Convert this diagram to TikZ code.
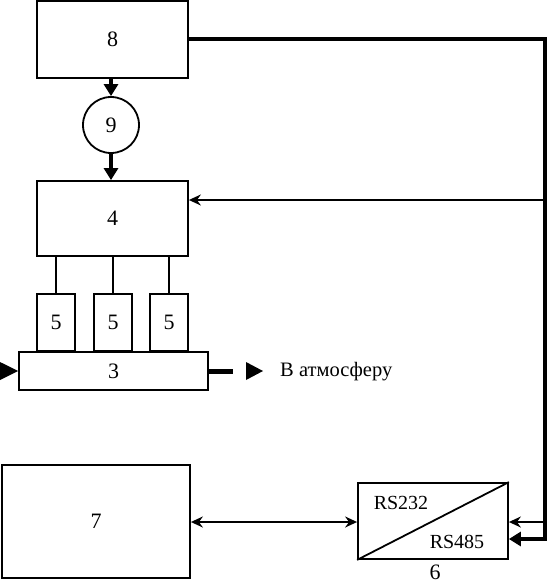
\documentclass[tikz,border=0pt]{standalone}
\usepackage{fontspec}
\setmainfont{Liberation Serif}
\usetikzlibrary{arrows.meta}
\begin{document}
\begin{tikzpicture}[x=1pt,y=-1pt,
  blk/.style={draw,line width=1.8pt,inner sep=0pt,font=\fontsize{22}{22}\selectfont},
  thin/.style={line width=1.8pt},
  thick/.style={line width=4.2pt},
  tarr/.style={thin,-{Stealth[length=12pt,width=11pt,inset=4pt]}},
  barr/.style={thick,-{Triangle[length=12pt,width=14pt]}},
  lbl/.style={font=\fontsize{22}{22}\selectfont,inner sep=0pt}]
\useasboundingbox (0,0) rectangle (548,587);
\fill[white] (0,0) rectangle (548,587);
% boxes
\node[blk,minimum width=151pt,minimum height=77pt] (b8) at (112.5,39.5) {8};
\node[blk,circle,minimum size=56pt] (b9) at (111,125) {9};
\node[blk,minimum width=151pt,minimum height=75pt] (b4) at (112.5,218.5) {4};
\node[blk,minimum width=38pt,minimum height=57pt] (b5a) at (56,322.5) {5};
\node[blk,minimum width=38pt,minimum height=57pt] (b5b) at (113,322.5) {5};
\node[blk,minimum width=38pt,minimum height=57pt] (b5c) at (169,322.5) {5};
\node[blk,minimum width=189pt,minimum height=38pt] (b3) at (113.5,371) {3};
\node[blk,minimum width=188pt,minimum height=113pt] (b7) at (96,521.5) {7};
\node[blk,minimum width=150pt,minimum height=76pt] (b6) at (433,521) {};
\draw[thin] (b6.south west) -- (b6.north east);
\node[lbl,font=\fontsize{20}{20}\selectfont] (rs232) at (401,503) {RS232};
\node[lbl,font=\fontsize{20}{20}\selectfont] (rs485) at (457,542) {RS485};
\node[lbl] (n6) at (435,572) {6};
% vertical arrows
\draw[barr] (b9.north |- b8.south) -- (b9.north);
\draw[barr] (b9.south) -- (b9.south |- b4.north);
% 4 -> 5
\draw[thin] (b5a.north |- b4.south) -- (b5a.north);
\draw[thin] (b5b.north |- b4.south) -- (b5b.north);
\draw[thin] (b5c.north |- b4.south) -- (b5c.north);
% 3 in/out
\fill (0,362) -- (b3.west) -- (0,380) -- cycle;
\coordinate (outA) at (233,371);
\draw[line width=5pt] (b3.east) -- (outA);
\coordinate (triA) at (246,362);
\fill (triA) -- (263,371) -- (246,380) -- cycle;
\node[lbl,anchor=west,font=\fontsize{20.5}{20.5}\selectfont] (atm) at (280,372) {В атмосферу};
% bus line
\coordinate (c1) at (545,39);
\coordinate (c2) at (545,539);
\coordinate (c3) at (545,200);
\coordinate (c4) at (545,522);
\draw[thick,line cap=rect] (b8.east |- c1) -- (c1) -- (c2);
\draw[barr] (c2) -- (b6.east |- c2);
\draw[tarr] (c3) -- (b4.east |- c3);
\draw[tarr] (c4) -- (b6.east |- c4);
% 7 <-> 6
\draw[thin,{Stealth[length=12pt,width=11pt,inset=4pt]}-{Stealth[length=12pt,width=11pt,inset=4pt]}] (b7.east |- c4) -- (b6.west |- c4);
\end{tikzpicture}
\end{document}
